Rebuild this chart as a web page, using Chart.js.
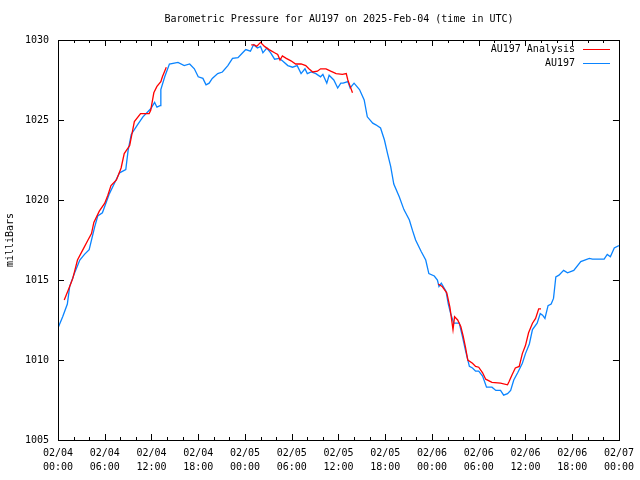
<!DOCTYPE html>
<html>
<head>
<meta charset="utf-8">
<script src="https://cdn.jsdelivr.net/npm/chart.js@4.4.0/dist/chart.umd.min.js"></script>
<style>
  html, body { margin: 0; padding: 0; background: #fff; }
  #wrap { width: 640px; height: 480px; }
</style>
</head>
<body>
<div id="wrap"><canvas id="pressureChart"></canvas></div>
<script>
// horas desde 02/04 00:00 UTC y presión (mb)
const stationHours = [
  0.0, 0.6, 1.2, 1.5, 2.1, 2.8, 3.4, 4.0, 4.7, 5.1, 5.7, 6.6, 7.2, 7.9, 8.7, 9.0, 9.4, 10.2, 10.9, 11.9,
  12.4, 12.7, 13.1, 13.2, 13.7, 14.3, 15.4, 16.2, 16.9, 17.5, 18.0, 18.6, 19.0, 19.4, 19.8, 20.5, 21.1, 21.8,
  22.4, 23.1, 23.7, 24.1, 24.7, 25.1, 25.6, 26.0, 26.3, 26.8, 27.3, 27.8, 28.4, 28.8, 29.5, 30.1, 30.7, 31.2,
  31.7, 32.0, 32.5, 33.1, 33.7, 34.0, 34.5, 34.8, 35.4, 35.9, 36.3, 36.6, 37.2, 37.5, 38.0, 38.7, 39.3, 39.7,
  40.4, 40.8, 41.4, 41.9, 42.3, 42.7, 43.1, 43.8, 44.4, 45.1, 45.5, 45.9, 46.6, 47.2, 47.6, 48.3, 48.7, 48.9,
  49.2, 49.8, 50.1, 50.4, 50.8, 51.5, 51.9, 52.3, 52.8, 53.2, 53.6, 54.0, 54.5, 55.0, 55.7, 56.2, 56.8, 57.2,
  57.7, 58.1, 58.5, 59.0, 59.6, 60.0, 60.5, 60.9, 61.5, 61.9, 62.2, 62.5, 62.9, 63.3, 63.6, 63.9, 64.3, 64.9,
  65.4, 66.2, 67.1, 68.2, 68.6, 70.1, 70.5, 70.9, 71.4, 72.0
];
const stationValues = [
  1012.0, 1012.7, 1013.5, 1014.6, 1015.4, 1016.25, 1016.6, 1016.9, 1018.3, 1019.0, 1019.2, 1020.4, 1021.0, 1021.7, 1021.9, 1023.1, 1024.1, 1024.7, 1025.2, 1025.7,
  1026.1, 1025.8, 1025.9, 1026.9, 1027.7, 1028.5, 1028.6, 1028.4, 1028.5, 1028.2, 1027.7, 1027.6, 1027.2, 1027.3, 1027.6, 1027.9, 1028.0, 1028.4,
  1028.85, 1028.9, 1029.2, 1029.4, 1029.3, 1029.7, 1029.5, 1029.6, 1029.2, 1029.5, 1029.2, 1028.8, 1028.85, 1028.7, 1028.4, 1028.3, 1028.4, 1027.9,
  1028.2, 1027.9, 1028.0, 1027.9, 1027.7, 1027.85, 1027.3, 1027.8, 1027.5, 1027.0, 1027.3, 1027.3, 1027.4, 1027.0, 1027.3, 1026.9, 1026.25, 1025.2,
  1024.8, 1024.7, 1024.5, 1023.75, 1022.9, 1022.1, 1021.0, 1020.2, 1019.4, 1018.75, 1018.1, 1017.5, 1016.8, 1016.25, 1015.4, 1015.25, 1015.0, 1014.6,
  1014.8, 1014.3, 1013.5, 1012.9, 1012.3, 1012.3, 1011.5, 1010.6, 1009.6, 1009.5, 1009.3, 1009.3, 1009.0, 1008.3, 1008.3, 1008.1, 1008.1, 1007.8,
  1007.9, 1008.1, 1008.75, 1009.2, 1009.8, 1010.4, 1011.0, 1011.9, 1012.3, 1012.9, 1012.8, 1012.6, 1013.4, 1013.5, 1013.85, 1015.2, 1015.3, 1015.6,
  1015.45, 1015.6, 1016.15, 1016.35, 1016.3, 1016.3, 1016.6, 1016.45, 1017.0, 1017.15
];

// análisis: null = hueco sin datos
const analysisHours = [
  0.8, 1.5, 1.9, 2.5, 3.2, 3.8, 4.3, 4.6, 5.3, 6.0, 6.4, 6.8, 7.5, 8.1, 8.5, 9.2, 9.6, 9.8, 10.6, 11.7, 11.9,
  12.3, 12.7, 13.2, 13.4, 13.9,
  19.0,
  24.8, 25.2, 25.5, 26.0, 26.5, 27.1, 27.8, 28.2, 28.5, 28.8, 29.3, 29.9, 30.5, 31.2, 31.8, 32.2, 32.7, 33.3,
  33.7, 34.4, 35.0, 35.7, 36.5, 37.0, 37.2, 37.5, 37.8,
  43.0,
  48.8, 49.3, 49.9, 50.3, 50.7, 50.9, 51.3, 51.7, 52.0, 52.3, 52.6, 53.2, 53.6, 54.0, 54.5, 54.9, 55.7, 56.8,
  57.7, 57.9, 58.3, 58.7, 59.2, 59.6, 60.0, 60.4, 60.9, 61.3, 61.7, 62.0
];
const analysisValues = [
  1013.75, 1014.6, 1015.1, 1016.25, 1016.9, 1017.45, 1017.9, 1018.6, 1019.3, 1019.8, 1020.3, 1020.9, 1021.25, 1022.0, 1022.9, 1023.4, 1024.4, 1024.9, 1025.4, 1025.4, 1025.6,
  1026.7, 1027.1, 1027.4, 1027.7, 1028.3,
  null,
  1029.7, 1029.7, 1029.6, 1029.85, 1029.6, 1029.4, 1029.2, 1029.1, 1028.75, 1029.0, 1028.85, 1028.7, 1028.5, 1028.5, 1028.4, 1028.2, 1028.0, 1028.05,
  1028.2, 1028.2, 1028.05, 1027.9, 1027.85, 1027.9, 1027.5, 1027.1, 1026.7,
  null,
  1014.75, 1014.6, 1014.2, 1013.3, 1011.9, 1012.7, 1012.5, 1012.1, 1011.5, 1010.8, 1010.0, 1009.8, 1009.6, 1009.55, 1009.2, 1008.8, 1008.6, 1008.55,
  1008.45, 1008.65, 1009.1, 1009.5, 1009.6, 1010.4, 1010.9, 1011.7, 1012.3, 1012.6, 1013.2, 1013.2
];

const xTickLabels = [
  ['02/04', '00:00'], ['02/04', '06:00'], ['02/04', '12:00'], ['02/04', '18:00'],
  ['02/05', '00:00'], ['02/05', '06:00'], ['02/05', '12:00'], ['02/05', '18:00'],
  ['02/06', '00:00'], ['02/06', '06:00'], ['02/06', '12:00'], ['02/06', '18:00'],
  ['02/07', '00:00']
];
const yTicks = [1005, 1010, 1015, 1020, 1025, 1030];

const FONT = "'DejaVu Sans Mono', monospace";

function toPoints(hours, values) {
  return hours.map((h, i) => ({ x: h, y: values[i] }));
}

// marco, marcas hacia dentro, título y leyenda al estilo gnuplot
const gnuplotFrame = {
  id: 'gnuplotFrame',
  afterDraw(chart) {
    const ctx = chart.ctx;
    const area = chart.chartArea;
    const xs = chart.scales.x;
    const ys = chart.scales.y;
    ctx.save();
    ctx.strokeStyle = '#000';
    ctx.lineWidth = 1;
    ctx.strokeRect(Math.round(area.left) + 0.5, Math.round(area.top) + 0.5,
      Math.round(area.right - area.left), Math.round(area.bottom - area.top));

    ctx.beginPath();
    for (let h = 0; h <= 72; h += 2) {
      const px = Math.round(xs.getPixelForValue(h)) + 0.5;
      const len = h % 6 === 0 ? 6 : 3;
      ctx.moveTo(px, area.bottom); ctx.lineTo(px, area.bottom - len);
      ctx.moveTo(px, area.top); ctx.lineTo(px, area.top + len);
    }
    yTicks.forEach(v => {
      const py = Math.round(ys.getPixelForValue(v)) + 0.5;
      ctx.moveTo(area.left, py); ctx.lineTo(area.left + 6, py);
      ctx.moveTo(area.right, py); ctx.lineTo(area.right - 6, py);
    });
    ctx.stroke();

    ctx.fillStyle = '#000';
    ctx.font = '10px ' + FONT;
    ctx.textBaseline = 'middle';
    ctx.textAlign = 'center';
    ctx.fillText('Barometric Pressure for AU197 on 2025-Feb-04 (time in UTC)', 339, 19);

    ctx.save();
    ctx.translate(10, 240);
    ctx.rotate(-Math.PI / 2);
    ctx.fillText('milliBars', 0, 0);
    ctx.restore();

    ctx.textAlign = 'right';
    chart.data.datasets.forEach((ds, i) => {
      const y = 49 + i * 14;
      ctx.fillText(ds.label, 575, y);
      ctx.strokeStyle = ds.borderColor;
      ctx.beginPath();
      ctx.moveTo(583, y + 0.5);
      ctx.lineTo(610, y + 0.5);
      ctx.stroke();
    });
    ctx.restore();
  }
};

const ctx = document.getElementById('pressureChart');
new Chart(ctx, {
  type: 'line',
  data: {
    datasets: [{
      label: 'AU197 Analysis',
      data: toPoints(analysisHours, analysisValues),
      borderColor: '#ff0000',
      borderWidth: 1.3,
      pointRadius: 0,
      tension: 0,
      spanGaps: false
    }, {
      label: 'AU197',
      data: toPoints(stationHours, stationValues),
      borderColor: '#0a84ff',
      borderWidth: 1.3,
      pointRadius: 0,
      tension: 0
    }]
  },
  options: {
    responsive: true,
    maintainAspectRatio: false,
    animation: false,
    events: [],
    layout: { padding: { top: 40, right: 20, left: 0, bottom: 0 } },
    plugins: {
      legend: { display: false },
      title: { display: false },
      tooltip: { enabled: false }
    },
    scales: {
      x: {
        type: 'linear',
        min: 0,
        max: 72,
        grid: { display: false, drawTicks: false },
        border: { display: false },
        afterFit: s => { s.height = 40; },
        afterBuildTicks: s => { s.ticks = xTickLabels.map((_, i) => ({ value: i * 6 })); },
        ticks: {
          autoSkip: false,
          maxRotation: 0,
          padding: 6,
          color: '#000',
          font: { family: FONT, size: 10, lineHeight: 1.4 },
          callback: v => xTickLabels[Math.round(v / 6)]
        }
      },
      y: {
        min: 1005,
        max: 1030,
        grid: { display: false, drawTicks: false },
        border: { display: false },
        afterFit: s => { s.width = 58; },
        afterBuildTicks: s => { s.ticks = yTicks.map(v => ({ value: v })); },
        ticks: {
          padding: 9,
          color: '#000',
          font: { family: FONT, size: 10 },
          callback: v => String(v)
        }
      }
    }
  },
  plugins: [gnuplotFrame]
});
</script>
</body>
</html>
